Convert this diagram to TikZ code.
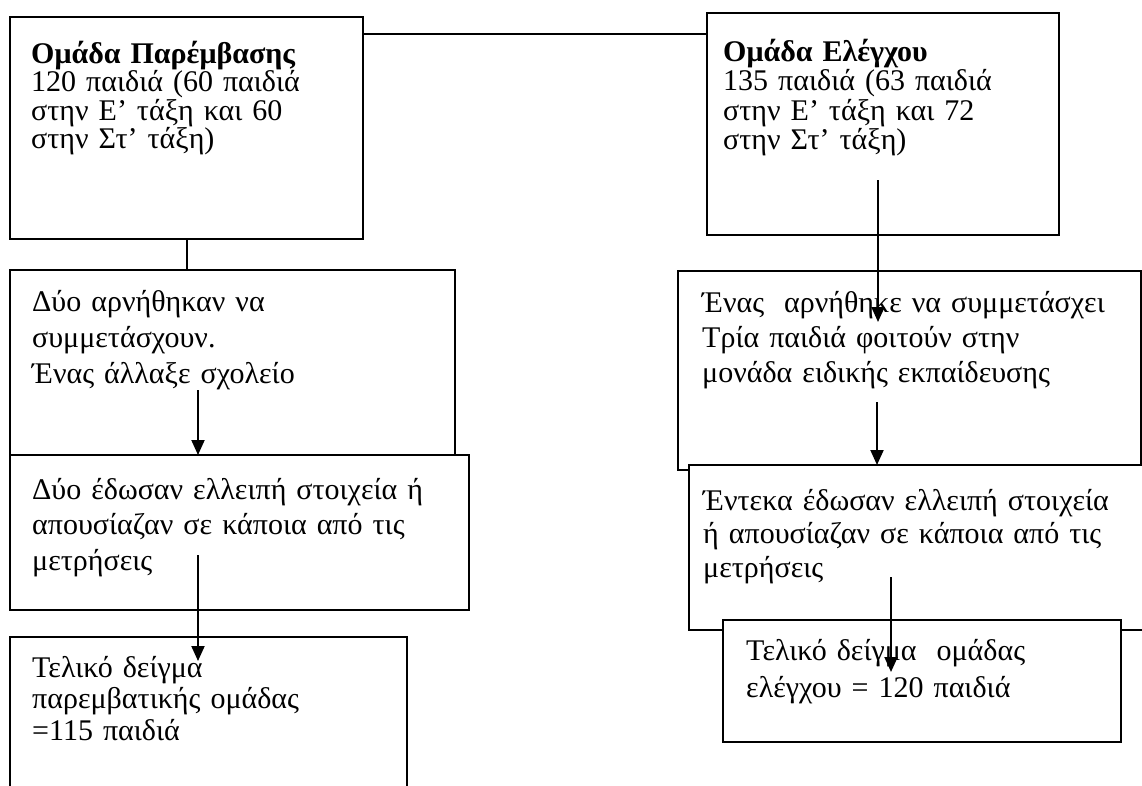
\documentclass[tikz,border=0pt]{standalone}
\usepackage{fontspec}
\setmainfont{Liberation Serif}
\usetikzlibrary{arrows.meta}
\tikzset{
  box/.style={draw,line width=2pt,fill=white,anchor=north west,inner sep=0pt,outer sep=0pt},
  txt/.style={anchor=base west,inner sep=0pt,text width=440pt,align=left},
  arr/.style={line width=2pt,-{Triangle[length=15pt,width=13pt]}},
  link/.style={line width=2pt}
}
\newcommand{\grk}[1]{\fontsize{30}{#1}\selectfont}
\begin{document}
\begin{tikzpicture}[x=1pt,y=-1pt]
\useasboundingbox (0,0) rectangle (1142,785);
% intervention group, left
\node[box,minimum width=353pt,minimum height=222pt] (grp1) at (10,17) {};
\node[txt,font=\grk{28.5}] (t1) at (31,63) {\textbf{Ομάδα Παρέμβασης}\\120 παιδιά (60 παιδιά\\στην Ε’ τάξη και 60\\στην Στ’ τάξη)};
\node[box,minimum width=445pt,minimum height=185pt] (ref1) at (10,270) {};
\node[txt,font=\grk{36}] (t3) at (32,311) {Δύο αρνήθηκαν να\\συμμετάσχουν.\\Ένας άλλαξε σχολείο};
\node[box,minimum width=459pt,minimum height=155pt] (ref2) at (10,455) {};
\node[txt,font=\grk{35.5}] (t4) at (32,499) {Δύο έδωσαν ελλειπή στοιχεία ή\\απουσίαζαν σε κάποια από τις\\μετρήσεις};
\node[box,minimum width=397pt,minimum height=200pt] (fin1) at (10,637) {};
\node[txt,font=\grk{31.5}] (t5) at (32,677) {Τελικό δείγμα\\παρεμβατικής ομάδας\\=115 παιδιά};
% control group, right
\node[box,minimum width=352pt,minimum height=222pt] (grp2) at (707,13) {};
\node[txt,font=\grk{29.5}] (t2) at (723,61) {\textbf{Ομάδα Ελέγχου}\\135 παιδιά (63 παιδιά\\στην Ε’ τάξη και 72\\στην Στ’ τάξη)};
\node[box,minimum width=463pt,minimum height=199pt] (drop1) at (678,271) {};
\node[txt,font=\grk{35}] (t6) at (702,312) {Ένας~ αρνήθηκε να συμμετάσχει\\Τρία παιδιά φοιτούν στην\\μονάδα ειδικής εκπαίδευσης};
\node[box,minimum width=480pt,minimum height=165pt] (drop2) at (689,465) {};
\node[txt,font=\grk{33.5}] (t7) at (703,510) {Έντεκα έδωσαν ελλειπή στοιχεία\\ή απουσίαζαν σε κάποια από τις\\μετρήσεις};
\node[box,minimum width=398pt,minimum height=122pt] (fin2) at (723,620) {};
\node[txt,font=\grk{37}] (t8) at (746,660) {Τελικό δείγμα~ ομάδας\\ελέγχου = 120 παιδιά};
% connectors
\coordinate (a1) at (198,390);
\coordinate (a2) at (198,555);
\coordinate (a2e) at (198,661);
\coordinate (b1) at (878,180);
\coordinate (b1e) at (878,322);
\coordinate (b2) at (877,402);
\coordinate (b3) at (891,577);
\coordinate (b3e) at (891,672);
\draw[link] ([yshift=-17pt]grp1.north east) -- ([yshift=-17pt]grp1.north east -| grp2.west);
\draw[link] (grp1.south) -- (grp1.south |- ref1.north);
\draw[arr] (a1) -- (a1 |- ref2.north);
\draw[arr] (a2) -- (a2e);
\draw[arr] (b1) -- (b1e);
\draw[arr] (b2) -- (b2 |- drop2.north);
\draw[arr] (b3) -- (b3e);
\end{tikzpicture}
\end{document}
